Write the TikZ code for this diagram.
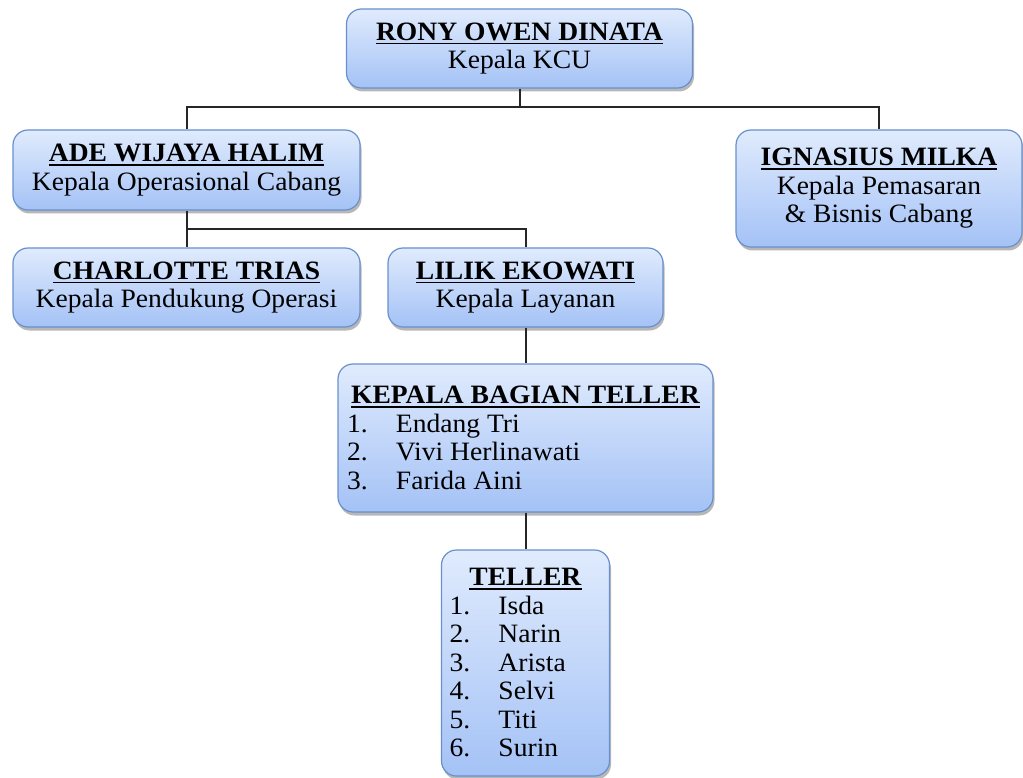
\documentclass[tikz,border=0pt]{standalone}
\usepackage{fontspec}
\setmainfont{Liberation Serif}[FakeStretch=1.04]
\usetikzlibrary{shadows}
\definecolor{boxTop}{RGB}{224,235,253}
\definecolor{boxBot}{RGB}{164,194,246}
\definecolor{boxLine}{RGB}{104,144,204}
\newlength{\rowwd}
\newcommand{\nama}[1]{\setbox0\hbox{\textbf{#1}}\rlap{\rule[-4pt]{\wd0}{1.6pt}}\box0}
\newcommand{\baris}[2]{\makebox[\rowwd][l]{\makebox[49pt][l]{#1.}#2}}

\begin{document}
\begin{tikzpicture}[
  x=1pt,y=-1pt,
  every node/.style={font=\fontsize{26.5}{28.5}\selectfont},
  posbox/.style={draw=boxLine,line width=1.2pt,rounded corners=15pt,top color=boxTop,bottom color=boxBot,
    drop shadow={shadow xshift=1.5pt,shadow yshift=-3.5pt,opacity=0.4,fill=black!70},align=center,inner sep=0pt},
  listbox/.style={posbox,execute at begin node={\setlength{\rowwd}{#1}}},
  link/.style={draw=black!85,line width=2pt}
]
\useasboundingbox (0,0) rectangle (1023,778);
\node[posbox,minimum width=346pt,minimum height=79pt] (rony) at (519.5,48.5) {\nama{RONY OWEN DINATA}\\Kepala KCU};
\node[posbox,minimum width=347pt,minimum height=80pt] (ade) at (186.5,170) {\nama{ADE WIJAYA HALIM}\\Kepala Operasional Cabang};
\node[posbox,minimum width=286pt,minimum height=117pt] (ign) at (879,188.5) {\nama{IGNASIUS MILKA}\\Kepala Pemasaran\\\& Bisnis Cabang};
\node[posbox,minimum width=347pt,minimum height=79pt] (char) at (186.5,287.5) {\nama{CHARLOTTE TRIAS}\\Kepala Pendukung Operasi};
\node[posbox,minimum width=275pt,minimum height=79pt] (lilik) at (525.5,287.5) {\nama{LILIK EKOWATI}\\Kepala Layanan};
\node[listbox=357pt,minimum width=375pt,minimum height=148pt] (kbt) at (525.5,438) {\nama{KEPALA BAGIAN TELLER}\\
  \baris{1}{Endang Tri}\\\baris{2}{Vivi Herlinawati}\\\baris{3}{Farida Aini}};
\node[listbox=152pt,minimum width=168pt,minimum height=226pt] (tel) at (525.5,663) {\nama{TELLER}\\
  \baris{1}{Isda}\\\baris{2}{Narin}\\\baris{3}{Arista}\\\baris{4}{Selvi}\\\baris{5}{Titi}\\\baris{6}{Surin}};

% garis
\coordinate (busA) at (519.5,107);
\coordinate (busB) at (186.5,229);
\draw[link] (rony) -- (busA);
\draw[link] (busA) -| (ade);
\draw[link] (busA) -| (ign);
\draw[link] (ade) -- (char);
\draw[link] (busB) -| (lilik);
\draw[link] (lilik) -- (kbt);
\draw[link] (kbt) -- (tel);
\end{tikzpicture}
\end{document}
